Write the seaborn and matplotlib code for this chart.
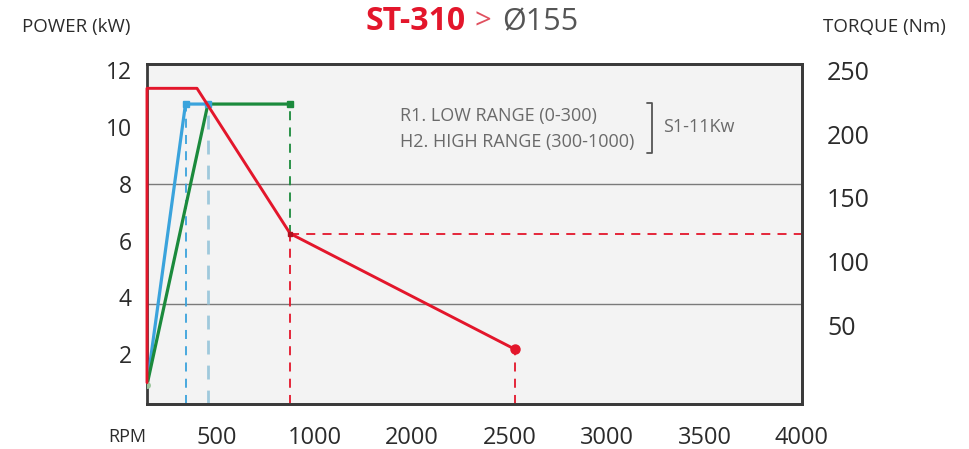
import numpy as np
import pandas as pd
import matplotlib
matplotlib.use("Agg")
import matplotlib.pyplot as plt
import seaborn as sns

# ---------------- data ----------------
rpm_tick_values = [500, 1000, 2000, 2500, 3000, 3500, 4000]
rpm_tick_labels = ["500", "1000", "2000", "2500", "3000", "3500", "4000"]
kw_ticks = [2, 4, 6, 8, 10, 12]
nm_ticks = [50, 100, 150, 200, 250]

# torque curve (red, Nm)
red_rpm = [0, 0, 357, 875, 2530]
red_nm = [5, 236, 236, 122, 31]
# power curves (kW)
blue_rpm = [0, 275, 435]
blue_kw = [0.92, 10.81, 10.81]
green_rpm = [0, 435, 875]
green_kw = [0.92, 10.81, 10.81]

grid_kw = [8, 3.77]

# ---------------- style ----------------
sns.set_style("white")
plt.rcParams["font.family"] = ["Open Sans", "DejaVu Sans"]

RED = "#e3162b"
BLUE = "#3aa3dc"
LBLUE = "#9fc9dc"
GREEN = "#1b8a3c"
DARK = "#3a3a3a"
TXT = "#2b2b2b"
GRAY = "#6a6a6a"

fig = plt.figure(figsize=(9.69, 4.49), dpi=100)
ax = fig.add_axes([147 / 969, 1 - 404 / 449, 655 / 969, 340 / 449])
ax.set_facecolor("#f3f3f3")

# non-uniform rpm scale (tick labels evenly spaced)
anchor_rpm = np.array([0, 500, 1000, 2000, 2500, 3000, 3500, 4000], float)
anchor_pos = np.array([0, 70, 167.5, 265, 362.5, 460, 557.5, 655], float)
fwd = lambda x: np.interp(x, anchor_rpm, anchor_pos)
inv = lambda u: np.interp(u, anchor_pos, anchor_rpm)
ax.set_xscale("function", functions=(fwd, inv))
ax.set_xlim(0, 4000)
ax.set_ylim(0.25, 12.22)

ax2 = ax.twinx()
ax2.set_ylim(-11.8, 255.1)

# grid lines
for g in grid_kw:
    ax.axhline(g, color="#7a7a7a", lw=1.0, zorder=1)

# dashed guide lines
ax.vlines(blue_rpm[1], 0.25, blue_kw[1], color=BLUE, lw=1.3, ls=(0, (5, 4)), zorder=2)
ax.vlines(green_rpm[1], 0.25, green_kw[1], color=LBLUE, lw=2.0, ls=(0, (5, 4)), zorder=2)
knee_kw = 0.25 + (red_nm[3] + 11.8) / (255.1 + 11.8) * (12.22 - 0.25)
ax.vlines(green_rpm[2], knee_kw, green_kw[2], color=GREEN, lw=1.3, ls=(0, (5, 4)), zorder=2)
ax2.vlines(red_rpm[3], -11.8, red_nm[3], color=RED, lw=1.3, ls=(0, (5, 4)), zorder=2)
ax2.vlines(red_rpm[4], -11.8, red_nm[4], color=RED, lw=1.3, ls=(0, (5, 4)), zorder=2)
ax2.hlines(red_nm[3], red_rpm[3], 4000, color=RED, lw=1.3, ls=(0, (5, 4)), zorder=2)

# curves
df_blue = pd.DataFrame({"rpm": blue_rpm, "kw": blue_kw})
df_green = pd.DataFrame({"rpm": green_rpm, "kw": green_kw})
df_red = pd.DataFrame({"rpm": red_rpm, "nm": red_nm})
sns.lineplot(data=df_blue, x="rpm", y="kw", ax=ax, color=BLUE, lw=2.3, sort=False,
             estimator=None, zorder=4)
sns.lineplot(data=df_green, x="rpm", y="kw", ax=ax, color=GREEN, lw=2.3, sort=False,
             estimator=None, zorder=5)
sns.lineplot(data=df_red, x="rpm", y="nm", ax=ax2, color=RED, lw=2.1, sort=False,
             estimator=None, zorder=6, clip_on=False)
ax.plot(blue_rpm[1:], blue_kw[1:], ls="none", marker="s", ms=4, color=BLUE, zorder=6)
ax.plot(green_rpm[2], green_kw[2], ls="none", marker="s", ms=4.5, color=GREEN, zorder=6)
ax.plot(green_rpm[0], green_kw[0], ls="none", marker="o", ms=4, color="#9cc59c", zorder=6)
ax2.plot(red_rpm[4], red_nm[4], ls="none", marker="o", ms=6.5, color=RED, zorder=7)
ax2.plot(red_rpm[3], red_nm[3], ls="none", marker="s", ms=3.5, color="#b0101e", zorder=7)

# ticks
ax.set_xticks(rpm_tick_values)
ax.set_xticklabels(rpm_tick_labels)
ax.set_yticks(kw_ticks)
ax2.set_yticks(nm_ticks)
ax.set_xlabel("")
ax.set_ylabel("")
ax2.set_ylabel("")
ax.tick_params(axis="x", length=0, pad=16, labelsize=17, labelcolor=TXT)
ax.tick_params(axis="y", length=0, pad=11, labelsize=16.5, labelcolor=TXT)
ax2.tick_params(axis="y", length=0, pad=18, labelsize=18, labelcolor=TXT)
for a in (ax, ax2):
    for s in a.spines.values():
        s.set_color(DARK)
        s.set_linewidth(2.0)
ax2.spines["left"].set_visible(False)
ax2.set_zorder(ax.get_zorder() + 1)
ax2.patch.set_visible(False)

# texts
fig.text(127 / 969, 1 - 437 / 449, "RPM", ha="center", va="center", fontsize=13, color=TXT)
fig.text(22 / 969, 1 - 27 / 449, "POWER (kW)", ha="left", va="center", fontsize=13.5, color=TXT)
fig.text(946 / 969, 1 - 27 / 449, "TORQUE (Nm)", ha="right", va="center", fontsize=13.5, color=TXT)
fig.text(466 / 969, 1 - 22 / 449, "ST-310", ha="right", va="center", fontsize=23,
         fontweight="bold", color=RED)
fig.text(474 / 969, 1 - 22 / 449, ">", ha="left", va="center", fontsize=21, color="#e0505f")
fig.text(502 / 969, 1 - 22 / 449, "Ø155", ha="left", va="center", fontsize=22, color="#555555")

ax.text(0.386, 0.847, "R1. LOW RANGE (0-300)", transform=ax.transAxes, ha="left",
        va="center", fontsize=13, color=GRAY)
ax.text(0.386, 0.771, "H2. HIGH RANGE (300-1000)", transform=ax.transAxes, ha="left",
        va="center", fontsize=13, color=GRAY)
bx = 0.771
ax.plot([bx - 0.008, bx, bx, bx - 0.008], [0.885, 0.885, 0.738, 0.738],
        transform=ax.transAxes, color="#555555", lw=1.3)
ax.text(0.788, 0.815, "S1-11Kw", transform=ax.transAxes, ha="left", va="center",
        fontsize=13, color=GRAY)

fig.savefig("out.png", dpi=100, facecolor="white")
